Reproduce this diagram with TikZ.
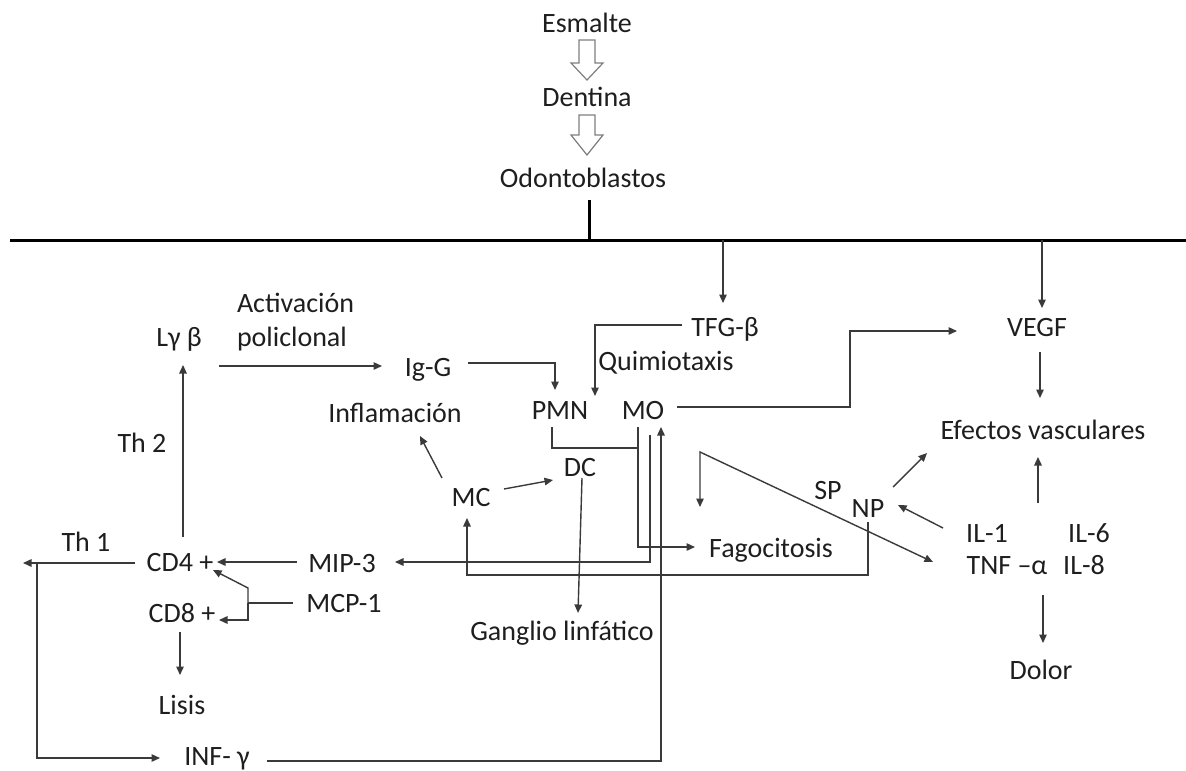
\documentclass[tikz,border=0pt]{standalone}
\usepackage{fontspec}
\setmainfont{Carlito}
\usetikzlibrary{arrows.meta,calc}
\definecolor{txt}{HTML}{1E1E1E}
\definecolor{lnc}{HTML}{3A3A3A}
\definecolor{hol}{HTML}{7F7F7F}
\begin{document}
\begin{tikzpicture}[x=1pt,y=-1pt,
 lbl/.style={inner sep=0pt,outer sep=0pt,text=txt,font=\fontsize{28}{34}\selectfont,text height=18pt,text depth=0pt},
 arr/.style={draw=lnc,line width=1.4pt,-{Triangle[length=8.5pt,width=7.5pt]}},
 darr/.style={draw=lnc,line width=1.4pt,{Triangle[length=8.5pt,width=7.5pt]}-{Triangle[length=8.5pt,width=7.5pt]}},
 plain/.style={draw=lnc,line width=1.4pt},
 barline/.style={draw=black,line width=3pt},
 hollow/.style={draw=hol,line width=1.2pt,fill=white,line join=miter}]
\useasboundingbox (0,0) rectangle (1186,771);

% nodes
\node[lbl] (esm) at (587,23) {Esmalte};
\node[lbl] (den) at (587,97) {Dentina};
\node[lbl] (odo) at (583,178) {Odontoblastos};
\node[lbl] (tfg) at (725,327) {TFG-β};
\node[lbl] (qui) at (666,361) {Quimiotaxis};
\node[lbl] (vegf) at (1037,327) {VEGF};
\node[lbl] (ly) at (179,337) {Lγ β};
\node[lbl,anchor=west] (act) at (237,303) {Activación};
\node[lbl,anchor=west] (pol) at (237,337) {policlonal};
\node[lbl] (igg) at (428,367) {Ig-G};
\node[lbl] (infl) at (395,413) {Inflamación};
\node[lbl] (pmn) at (560,410) {PMN};
\node[lbl] (mo) at (643,410) {MO};
\node[lbl] (efe) at (1043,430) {Efectos vasculares};
\node[lbl] (th2) at (142,443) {Th 2};
\node[lbl] (dc) at (580,467) {DC};
\node[lbl] (mc) at (471,497) {MC};
\node[lbl] (sp) at (828,490) {SP};
\node[lbl] (np) at (868,508) {NP};
\node[lbl] (il1) at (987,533) {IL-1};
\node[lbl] (il6) at (1089,533) {IL-6};
\node[lbl] (th1) at (86,542) {Th 1};
\node[lbl] (cd4) at (180,562) {CD4 +};
\node[lbl] (mip) at (342,563) {MIP-3};
\node[lbl] (fag) at (771,548) {Fagocitosis};
\node[lbl] (tnf) at (1007,565) {TNF –α};
\node[lbl] (il8) at (1084,565) {IL-8};
\node[lbl] (mcp) at (344,603) {MCP-1};
\node[lbl] (cd8) at (182,613) {CD8 +};
\node[lbl] (gan) at (562,631) {Ganglio linfático};
\node[lbl] (dol) at (1041,670) {Dolor};
\node[lbl] (lis) at (182,705) {Lisis};
\node[lbl] (infg) at (217,756) {INF- γ};

% hollow arrows
\draw[hollow] ($(esm)+(-8,17)$) -- ++(16,0) -- ++(0,23) -- ++(8,0) -- ++(-16,17) -- ++(-16,-17) -- ++(8,0) -- cycle;
\draw[hollow] ($(den)+(-8,18)$) -- ++(16,0) -- ++(0,20) -- ++(8,0) -- ++(-16,20) -- ++(-16,-20) -- ++(8,0) -- cycle;

% bar and tick
\coordinate (barL) at (10,240);
\coordinate (barR) at (1186,240);
\draw[barline] (barL) -- (barR);
\draw[barline] ($(odo)+(6,22)$) -- ($(odo)+(6,62)$);

% connectors
\draw[arr] ($(tfg)+(-2,-87)$) -- ($(tfg)+(-2,-24)$);
\draw[arr] ($(vegf)+(5,-87)$) -- ($(vegf)+(5,-19)$);
\draw[arr] ($(tfg)+(-43,-2)$) -| ($(pmn)+(35,-14)$);
\draw[arr] ($(igg)+(40,-4)$) -| ($(pmn)+(-5,-20)$);
\draw[arr] ($(ly)+(40,29)$) -- ($(igg)+(-46,-1)$);
\draw[arr] ($(cd4)+(3,-25)$) -- ($(ly)+(4,28)$);
\coordinate (w1) at (23,563);
\coordinate (w2) at (37,563);
\draw[arr] ($(cd4)+(-45,1)$) -- (w1);
\draw[arr] (w2) |- ($(infg)+(-57,2)$);
\draw[arr] ($(infg)+(50,5)$) -| ($(mo)+(18,17)$);
\draw[arr] ($(mip)+(-45,-1)$) -- ($(cd4)+(37,0)$);
\coordinate (br) at (248,603);
\draw[plain] ($(mcp)+(-51,0)$) -- (br);
\draw[arr] (br) -- ++(0,-15) -- ($(cd4)+(33,8)$);
\draw[arr] (br) |- ($(cd8)+(37,7)$);
\draw[arr] ($(cd8)+(-2,19)$) -- ($(lis)+(-2,-30)$);
\draw[plain] ($(pmn)+(-8,17)$) |- ($(mo)+(-5,38)$);
\draw[arr] ($(mo)+(-5,17)$) |- ($(fag)+(-76,-1)$);
\draw[arr] ($(mo)+(7,25)$) |- ($(mip)+(53,-1)$);
\draw[arr] ($(mo)+(34,-3)$) -- ++(173,0) |- ($(vegf)+(-80,4)$);
\draw[arr] ($(vegf)+(3,25)$) -- ($(efe)+(-3,-32)$);
\draw[arr] ($(il1)+(51,-30)$) -- ($(efe)+(-5,27)$);
\draw[arr] ($(tnf)+(36,30)$) -- ($(dol)+(2,-27)$);
\draw[arr] ($(il1)+(-44,-5)$) -- ($(np)+(30,-3)$);
\draw[arr] ($(np)+(25,-21)$) -- ($(efe)+(-116,23)$);
\draw[darr] ($(fag)+(-71,-41)$) -- ($(fag)+(-71,-96)$) -- ($(tnf)+(-74,-3)$);
\draw[arr] ($(np)+(0,14)$) -- ++(0,53) -| ($(mc)+(-4,21)$);
\draw[arr] ($(mc)+(33,-8)$) -- ($(dc)+(-27,13)$);
\draw[arr] ($(mc)+(-29,-19)$) -- ($(infl)+(25,23)$);
\draw[arr] ($(dc)+(2,11)$) -- ($(gan)+(16,-18)$);
\end{tikzpicture}
\end{document}
